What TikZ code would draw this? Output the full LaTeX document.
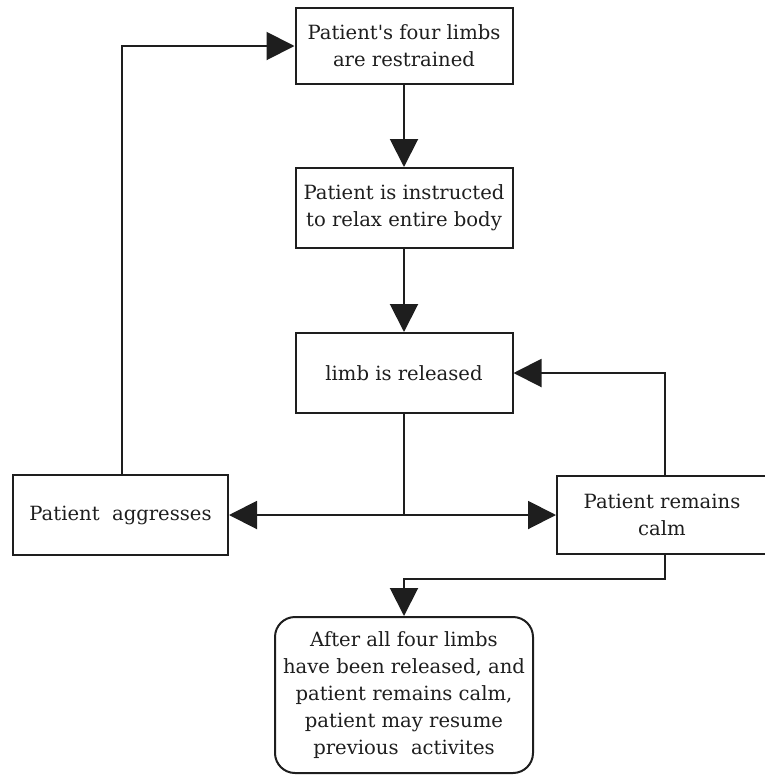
\documentclass[tikz,border=0pt]{standalone}
\usepackage{fontspec}
\setmainfont{DejaVu Serif}
\newfontfamily\plainapos{DejaVu Serif}
\usetikzlibrary{arrows.meta}
\definecolor{ink}{HTML}{1E1E1E}
\begin{document}
\begin{tikzpicture}[x=1pt,y=-1pt,
  box/.style={draw=ink, line width=2pt, inner sep=0pt, align=center,
    text=ink, font=\fontsize{19.6}{27}\selectfont},
  arr/.style={draw=ink, line width=2pt, -{Triangle[length=28pt,width=28pt]}},
  ln/.style={draw=ink, line width=2pt}]
\useasboundingbox (0,0) rectangle (764,777);
\node[box, minimum width=217pt, minimum height=76pt] (b1) at (404,46) {Patient{\plainapos\char"27}s four limbs\\are restrained};
\node[box, minimum width=217pt, minimum height=80pt] (b2) at (404,208) {Patient is instructed\\to relax entire body};
\node[box, minimum width=217pt, minimum height=80pt] (b3) at (404,373) {limb is released};
\node[box, minimum width=215pt, minimum height=80pt] (ag) at (120.5,515) {Patient\ \ aggresses};
\node[box, minimum width=210pt, minimum height=78pt] (ca) at (662,515) {Patient remains\\calm};
\node[box, rounded corners=20pt, minimum width=258pt, minimum height=156pt] (b5) at (404,695) {After all four limbs\\have been released, and\\patient remains calm,\\patient may resume\\previous\ \ activites};
\draw[arr] (b1) -- (b2);
\draw[arr] (b2) -- (b3);
\draw[arr] (b3.south) |- (ag.east);
\draw[arr] (b3.south) |- (ca.west);
\draw[arr] ([xshift=3pt]ca.north) |- (b3.east);
\draw[arr] ([xshift=1.5pt]ag.north) |- (b1.west);
\coordinate (turn) at ([xshift=3pt,yshift=-24pt]ca.south);
\draw[arr] ([xshift=3pt]ca.south) -- (turn) -| (b5.north);
\end{tikzpicture}
\end{document}
